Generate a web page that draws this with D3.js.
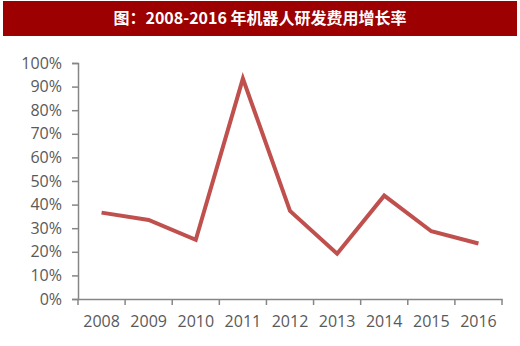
<!DOCTYPE html>
<html>
<head>
<meta charset="utf-8">
<script src="https://cdn.jsdelivr.net/npm/d3@7"></script>
<style>
  body { margin: 0; background: #fff; }
  #chart { width: 520px; height: 346px; }
</style>
</head>
<body>
<div id="chart"></div>
<script>
// chart data
var years = ['2008', '2009', '2010', '2011', '2012', '2013', '2014', '2015', '2016'];
var growth = [0.366, 0.335, 0.251, 0.934, 0.373, 0.192, 0.438, 0.287, 0.235];
var yTicks = [0, 0.1, 0.2, 0.3, 0.4, 0.5, 0.6, 0.7, 0.8, 0.9, 1.0];
var title = '图：2008-2016 年机器人研发费用增长率';

var width = 520, height = 346;
var margin = { top: 63, right: 18, bottom: 47, left: 78 };

var svg = d3.select('#chart').append('svg')
  .attr('width', width)
  .attr('height', height);

// title banner
svg.append('rect')
  .attr('x', 3).attr('y', 1)
  .attr('width', 514).attr('height', 35)
  .attr('fill', '#9c0000');
svg.append('text')
  .attr('x', 260).attr('y', 24)
  .attr('text-anchor', 'middle')
  .attr('fill', '#fff')
  .style('font-family', '"Noto Sans CJK SC", sans-serif')
  .style('font-weight', 'bold')
  .style('font-size', '16px')
  .text(title);

var g = svg.append('g')
  .attr('transform', 'translate(' + margin.left + ',' + margin.top + ')');

var innerW = width - margin.left - margin.right;
var innerH = height - margin.top - margin.bottom;

var x = d3.scaleBand().domain(years).range([0, innerW]);
var y = d3.scaleLinear().domain([0, 1]).range([innerH, 0]);

var axisColor = '#868686';
var labelFont = '"Open Sans", "Liberation Sans", sans-serif';

var yAxis = g.append('g')
  .call(d3.axisLeft(y).tickValues(yTicks).tickFormat(d3.format('.0%')).tickSizeOuter(0).tickSize(6).tickPadding(10));

var xAxis = g.append('g')
  .attr('transform', 'translate(0,' + innerH + ')')
  .call(d3.axisBottom(x).tickSizeOuter(0).tickSize(0).tickPadding(17));

// x ticks sit at band edges
xAxis.selectAll('.tick line').remove();
var edges = years.map(function(d) { return x(d); }).concat([innerW]);
xAxis.selectAll('.edge')
  .data(edges)
  .enter().append('line')
  .attr('x1', function(d) { return d; })
  .attr('x2', function(d) { return d; })
  .attr('y1', 0).attr('y2', 6)
  .attr('stroke', axisColor);

[yAxis, xAxis].forEach(function(a) {
  a.select('.domain').attr('stroke', axisColor).attr('stroke-width', 1.5);
  a.selectAll('line').attr('stroke', axisColor).attr('stroke-width', 1.5);
  a.selectAll('text')
    .attr('fill', '#595959')
    .style('font-family', labelFont)
    .style('font-size', '16px');
});

var line = d3.line()
  .x(function(d, i) { return x(years[i]) + x.bandwidth() / 2; })
  .y(function(d) { return y(d); });

g.append('path')
  .datum(growth)
  .attr('d', line)
  .attr('fill', 'none')
  .attr('stroke', '#c0504d')
  .attr('stroke-width', 4)
  .attr('stroke-linejoin', 'miter');
</script>
</body>
</html>
